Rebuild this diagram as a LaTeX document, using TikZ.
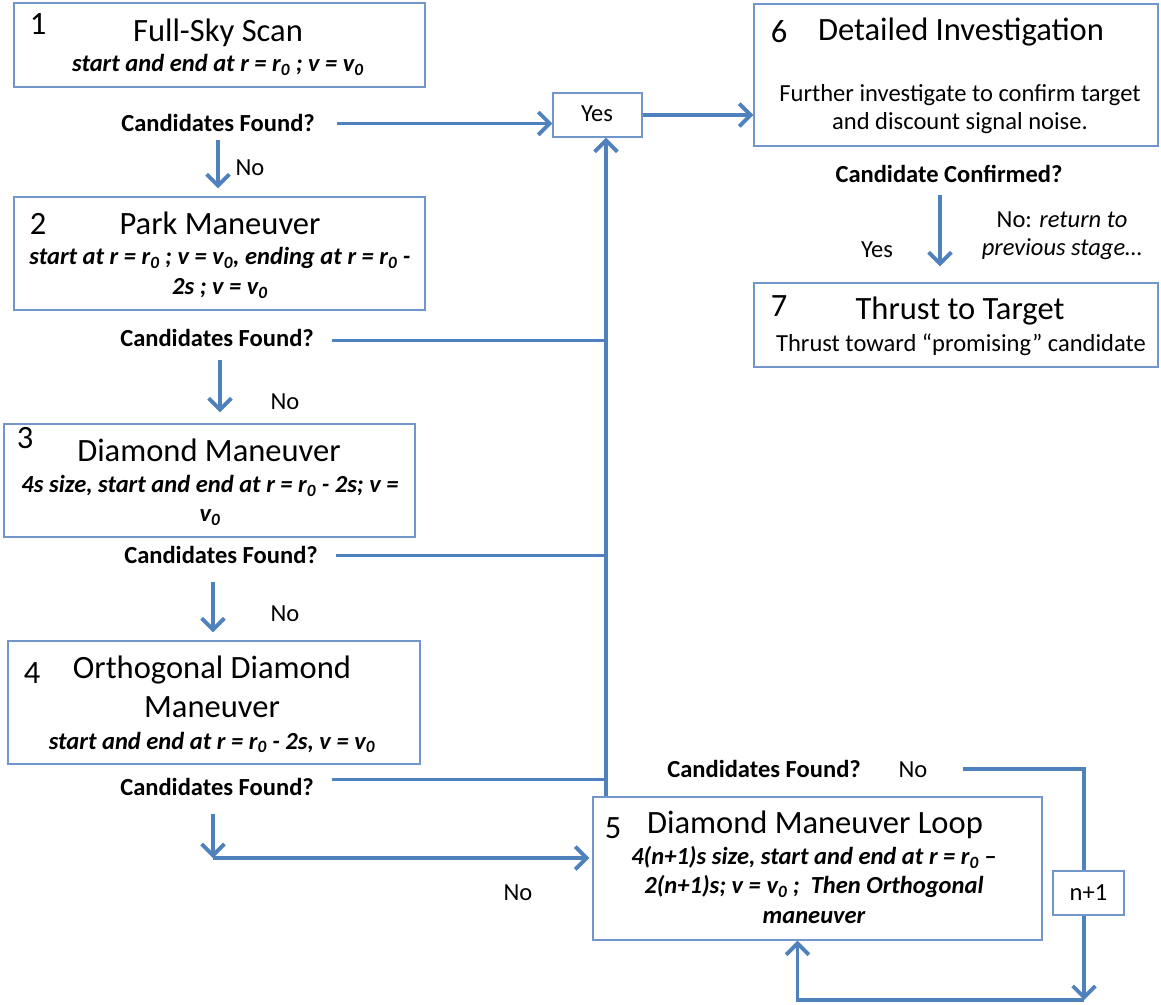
\documentclass[tikz,border=0pt]{standalone}
\usepackage{fontspec}
\setmainfont{Carlito}
\usetikzlibrary{positioning, arrows.meta, calc}

\definecolor{flowblue}{HTML}{4F81BD}
\definecolor{boxblue}{HTML}{7096CC}

\tikzset{
  stagebox/.style={draw=boxblue, line width=1.1pt, inner sep=0pt},
  size/.style 2 args={minimum width=#1*0.75pt, minimum height=#2*0.75pt},
  head/.style={font=\fontsize{24.4}{29}\selectfont, anchor=base, inner sep=0pt, align=center},
  tag/.style={font=\fontsize{24.4}{29}\selectfont, anchor=base, inner sep=0pt},
  spec/.style={font=\fontsize{18.4}{22.5}\selectfont\bfseries\itshape, anchor=base, inner sep=0pt, align=center},
  ask/.style={font=\fontsize{18.4}{22}\selectfont\bfseries, anchor=base, inner sep=0pt},
  say/.style={font=\fontsize{18.4}{21}\selectfont, anchor=base, inner sep=0pt, align=center},
  flow/.style={draw=flowblue, line width=2.8pt},
  flowarrow/.style={flow, -{Straight Barb[length=8.5pt, width=17pt]}}
}

\begin{document}
\begin{tikzpicture}[x=0.75pt, y=-0.75pt]
\useasboundingbox (0,0) rectangle (1161,1005);

% stage 1
\node[stagebox, size={411}{84}] (b1) at (219.5,45) {};
\node[tag] (n1) at (38,35) {1};
\node[head] (t1) at (218,42) {Full-Sky Scan};
\node[spec] (s1) at (218,72) {start and end at r = r\textsubscript{0} ; v = v\textsubscript{0}};
\node[ask] (cf1) at (218,132) {Candidates Found?};
\node[say] (no1) at (250,176) {No};

% stage 2
\node[stagebox, size={411}{113}] (b2) at (219.5,253.5) {};
\node[tag] (n2) at (38,235) {2};
\node[head] (t2) at (220,235) {Park Maneuver};
\node[spec] (s2) at (220,295) {start at r = r\textsubscript{0} ; v = v\textsubscript{0}, ending at r = r\textsubscript{0} -\\2s ; v = v\textsubscript{0}};
\node[ask] (cf2) at (217,347) {Candidates Found?};
\node[say] (no2) at (285,410) {No};

% stage 3
\node[stagebox, size={411}{113}] (b3) at (209.5,480.5) {};
\node[tag] (n3) at (25,449) {3};
\node[head] (t3) at (209,462) {Diamond Maneuver};
\node[spec, font=\fontsize{18.4}{21.8}\selectfont\bfseries\itshape] (s3) at (210,522) {4s size, start and end at r = r\textsubscript{0} - 2s; v =\\v\textsubscript{0}};
\node[ask] (cf3) at (221,563) {Candidates Found?};
\node[say] (no3) at (285,621) {No};

% stage 4
\node[stagebox, size={412}{123}] (b4) at (214,702.5) {};
\node[tag] (n4) at (32,683) {4};
\node[head] (t4) at (212,717) {Orthogonal Diamond\\Maneuver};
\node[spec] (s4) at (212,749) {start and end at r = r\textsubscript{0} - 2s, v = v\textsubscript{0}};
\node[ask] (cf4) at (217,795) {Candidates Found?};
\node[say] (no4) at (518,900) {No};

% yes junction
\node[stagebox, size={89}{44}] (yes) at (597.5,115) {};
\node[say] (ytxt) at (597,122) {Yes};

% stage 6
\node[stagebox, size={404}{142}] (b6) at (956,75) {};
\node[tag] (n6) at (779,43) {6};
\node[head] (t6) at (961,41) {Detailed Investigation};
\node[say] (s6) at (960,130) {Further investigate to confirm target\\and discount signal noise.};
\node[ask] (cc) at (949,183) {Candidate Confirmed?};
\node[say] (yes6) at (877,258) {Yes};
\node[say] (back6) at (1062,256) {No: \textit{return to}\\\textit{previous stage…}};

% stage 7
\node[stagebox, size={404}{84}] (b7) at (956,325) {};
\node[tag] (n7) at (779,317) {7};
\node[head] (t7) at (960,320) {Thrust to Target};
\node[say] (s7) at (961,352) {Thrust toward “promising” candidate};

% stage 5
\node[stagebox, size={449}{143}] (b5) at (817.5,868.5) {};
\node[tag] (n5) at (613,838) {5};
\node[head] (t5) at (815,833) {Diamond Maneuver Loop};
\node[spec, font=\fontsize{18.4}{21.8}\selectfont\bfseries\itshape] (s5) at (814,923) {4(n+1)s size, start and end at r = r\textsubscript{0} –\\2(n+1)s; v = v\textsubscript{0} ;\ \ Then Orthogonal\\maneuver};
\node[ask] (cf5) at (764,777) {Candidates Found?};
\node[say] (no5) at (913,777) {No};
\node[stagebox, size={71}{44}, font=\fontsize{18.4}{21}\selectfont] (loop) at (1088.5,893) {n+1};

\coordinate (trunk) at (606,0);
\coordinate (rail) at (1084,0);
\coordinate (floor) at (0,1000);
\coordinate (c4) at (213,858);

% yes branches
\draw[flowarrow] ($(cf1.east)+(22,0)$) -- (cf1.east -| yes.west);
\draw[flowarrow] (yes.east) -- (yes.east -| b6.west);
\draw[flowarrow] (trunk |- b5.north) -- (trunk |- yes.south);
\draw[flow] ($(cf2.east)+(18,2)$) -- ($(cf2.east -| trunk)+(0,2)$);
\draw[flow] ($(cf3.east)+(18,1)$) -- ($(cf3.east -| trunk)+(0,1)$);
\draw[flow] ($(cf4.east)+(18,-7)$) -- ($(cf4.east -| trunk)+(0,-7)$);

% no branches
\draw[flowarrow] ($(cf1.south)+(0,8)$) -- ($(cf1.south |- b2.north)+(0,-8)$);
\draw[flowarrow] ($(cf2.south)+(3,13)$) -- ($(cf2.south |- b3.north)+(3,-11)$);
\draw[flowarrow] ($(cf3.south)+(-8,19)$) -- ($(cf3.south |- b4.north)+(-8,-8)$);
\draw[flowarrow] ($(c4 |- cf4.south)+(0,19)$) -- (c4);
\draw[flowarrow] (c4) -- ($(c4 -| b5.west)+(-3,0)$);

% confirmation
\draw[flowarrow] ($(cc.south)+(-9,12)$) -- ($(cc.south |- b7.north)+(-9,-16)$);

% loop
\draw[flow] ($(no5.east)+(35,0)$) -| (rail |- loop.north);
\draw[flowarrow] (rail |- loop.south) -- (rail |- floor);
\draw[flowarrow] (rail |- floor) -| ($(b5.south)+(-20,0)$);

\end{tikzpicture}
\end{document}
